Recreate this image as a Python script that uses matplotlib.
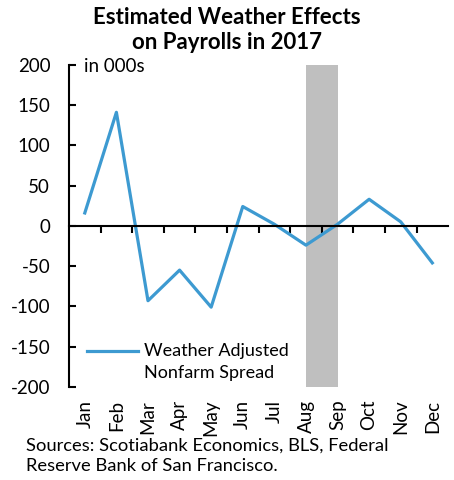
import matplotlib
matplotlib.use("Agg")
import matplotlib.pyplot as plt
import matplotlib.transforms as mtransforms

plt.rcParams["font.family"] = ["Lato", "DejaVu Sans"]

months = ["Jan", "Feb", "Mar", "Apr", "May", "Jun", "Jul", "Aug", "Sep", "Oct", "Nov", "Dec"]
weather_effect = [16, 141, -93, -55, -101, 24, 2, -24, 2, 33, 5, -46]
shade_start, shade_end = "Aug", "Sep"
y_ticks = [-200, -150, -100, -50, 0, 50, 100, 150, 200]

line_color = "#3d9ad1"

fig = plt.figure(figsize=(4.54, 4.8), dpi=100)
ax = fig.add_axes([0.152, 0.194, 0.835, 0.671])

x = list(range(len(months)))
ax.axvspan(months.index(shade_start), months.index(shade_end), color="#bfbfbf", lw=0, zorder=1)
ax.plot(x, weather_effect, color=line_color, lw=2.3, zorder=3, label="Weather Adjusted\nNonfarm Spread")

ax.set_xlim(-0.5, len(months) - 0.5)
ax.set_ylim(-200, 200)
ax.set_yticks(y_ticks)
ax.set_yticklabels([str(v) for v in y_ticks], fontsize=13.5)
ax.tick_params(axis="y", direction="in", length=5, width=1.5, pad=13.5)

# x axis sits on the zero line, ticks between months
ax.spines["bottom"].set_position(("data", 0))
ax.spines["bottom"].set_linewidth(1.5)
ax.spines["left"].set_linewidth(1.5)
ax.spines["top"].set_visible(False)
ax.spines["right"].set_visible(False)
ax.set_xticks([i + 0.5 for i in range(len(months) - 1)])
ax.set_xticklabels([])
ax.tick_params(axis="x", direction="out", length=5, width=1.5)
ax.spines["bottom"].set_zorder(4)

trans = mtransforms.blended_transform_factory(ax.transData, ax.transAxes)
for i, m in enumerate(months):
    ax.text(i, -0.04, m, transform=trans, rotation=90, ha="center", va="top", fontsize=13.5)

ax.text(0.04, 0.995, "in 000s", transform=ax.transAxes, ha="left", va="center", fontsize=13.5)

leg = ax.legend(loc="lower left", bbox_to_anchor=(0.029, -0.003), frameon=False, fontsize=13,
                handlelength=2.8, handletextpad=0.33, borderaxespad=0, labelspacing=0)
for t in leg.get_texts():
    t.set_linespacing(1.45)
for h in leg.legend_handles:
    h.set_ydata([y + 8 for y in h.get_ydata()])

fig.text(0.5, 0.985, "Estimated Weather Effects\non Payrolls in 2017", ha="center", va="top",
         fontsize=16, fontweight="bold", linespacing=1.25)
fig.text(0.057, 0.088, "Sources: Scotiabank Economics, BLS, Federal\nReserve Bank of San Francisco.",
         ha="left", va="top", fontsize=13.25, linespacing=1.3)

fig.savefig("out.png", dpi=100)
